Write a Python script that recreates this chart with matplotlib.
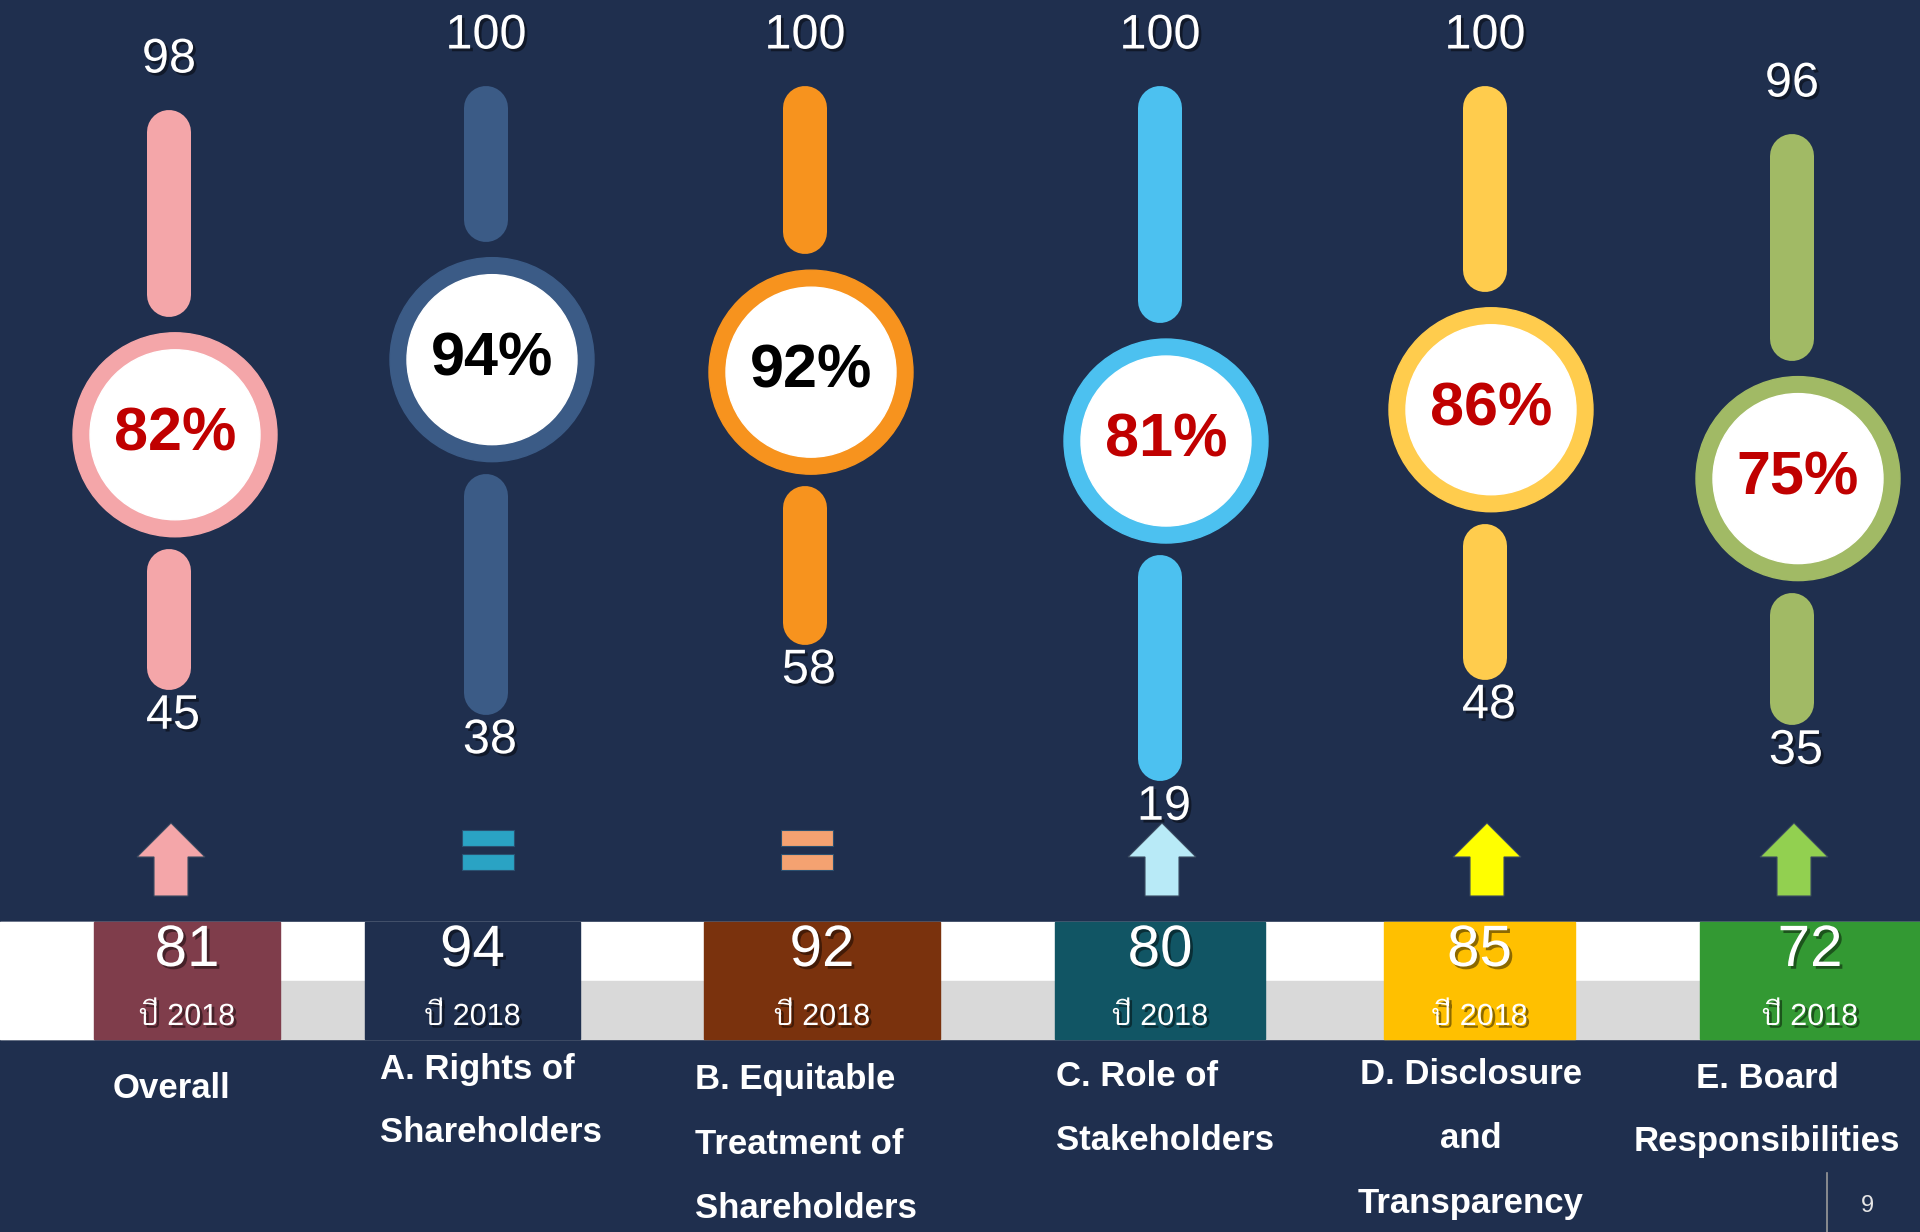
import matplotlib
matplotlib.use('Agg')
import matplotlib.pyplot as plt
from matplotlib.patches import Circle, Rectangle, Polygon
import matplotlib.patheffects as pe

plt.rcParams['font.family'] = ['Liberation Sans', 'Bai Jamjuree', 'DejaVu Sans']

# data
categories = ['Overall', 'A. Rights of\nShareholders', 'B. Equitable\nTreatment of\nShareholders',
              'C. Role of\nStakeholders', 'D. Disclosure\nand\nTransparency', 'E. Board\nResponsibilities']
score_now = [82, 94, 92, 81, 86, 75]
max_score = [98, 100, 100, 100, 100, 96]
min_score = [45, 38, 58, 19, 48, 35]
score_2018 = [81, 94, 92, 80, 85, 72]
trend = ['up', 'same', 'same', 'up', 'up', 'up']
year_label = 'ปี 2018'
page_no = '9'

# styles / layout (figure pixels)
bg = '#1F2F4E'
ring_colors = ['#F4A6A9', '#3B5B86', '#F7931E', '#4CC1F0', '#FFCC4D', '#A1BA65']
pct_colors = ['#C00000', 'black', 'black', '#C00000', '#C00000', '#C00000']
trend_colors = ['#F4A6A9', '#2AA3C4', '#F4A271', '#B8EAF7', '#FFFF00', '#92D050']
box_colors = ['#7F3D4B', None, '#7A320D', '#115564', '#FFC000', '#339933']
box_span = [(94, 280), (365, 580), (704, 940), (1055, 1265), (1384, 1575), (1700, 1920)]
col_x = [175, 492, 811, 1166, 1491, 1798]
label_pos = [(171, 'center', 1089), (380, 'left', 1069), (695, 'left', 1080),
             (1056, 'left', 1076), (1471, 'center', 1075), (1767, 'center', 1078)]

R_OUT, R_IN = 102, 85
BAR_W = 44  # px


# value -> vertical position (infographic scale, y grows downward)
def circle_y(p):
    return 416 - 6.26 * (p - 85)


def top_end_y(v):
    return 98 - 12.0 * (v - 99)


def bottom_end_y(v):
    return 706 - 3.5 * (v - 40.5)


fig = plt.figure(figsize=(19.2, 12.32), dpi=100, facecolor=bg)
ax = fig.add_axes([0, 0, 1, 1])
ax.set_xlim(0, 1920)
ax.set_ylim(1232, 0)
ax.axis('off')
ax.set_facecolor(bg)

shadow = [pe.withSimplePatchShadow(offset=(2, -2), shadow_rgbFace='black', alpha=0.45)]
lw_pt = BAR_W * 72 / 100

for i in range(len(categories)):
    x = col_x[i]
    bx = x - 6
    cy = circle_y(score_now[i])
    col = ring_colors[i]

    # top bar
    y1 = top_end_y(max_score[i])
    y2 = cy - R_OUT - 16
    ax.plot([bx, bx], [y1 + BAR_W / 2, y2 - BAR_W / 2], color=col, lw=lw_pt,
            solid_capstyle='round', zorder=2)
    ax.text(bx, y1 - 50, str(max_score[i]), color='white', fontsize=35,
            ha='center', va='center', path_effects=shadow, zorder=5)

    # bottom bar
    y3 = cy + R_OUT + 12
    y4 = bottom_end_y(min_score[i])
    ax.plot([bx, bx], [y3 + BAR_W / 2, y4 - BAR_W / 2], color=col, lw=lw_pt,
            solid_capstyle='round', zorder=2)
    ax.text(bx + 4, y4 + 26, str(min_score[i]), color='white', fontsize=35,
            ha='center', va='center', path_effects=shadow, zorder=5)

    # ring
    ax.add_patch(Circle((x, cy), R_OUT, color=col, zorder=3))
    ax.add_patch(Circle((x, cy), R_IN, color='white', zorder=4))
    ax.text(x, cy, f'{score_now[i]}%', color=pct_colors[i], fontsize=44,
            fontweight='bold', ha='center', va='center', zorder=5)

    # trend marker
    tx = x - 4
    tc = trend_colors[i]
    if trend[i] == 'up':
        pts = [(tx, 823), (tx + 34, 857), (tx + 17, 857), (tx + 17, 896),
               (tx - 17, 896), (tx - 17, 857), (tx - 34, 857)]
        ax.add_patch(Polygon(pts, closed=True, facecolor=tc, edgecolor='#3A4A60',
                             lw=0.8, zorder=3))
    else:
        for yy in (830, 854):
            ax.add_patch(Rectangle((tx - 26, yy), 52, 16, facecolor=tc,
                                   edgecolor='#2A5070', lw=0.8, zorder=3))

# bottom band
ax.add_patch(Rectangle((0, 922), 1920, 59, color='white', zorder=1))
ax.add_patch(Rectangle((0, 981), 1920, 58, color='#D9D9D9', zorder=1))
ax.add_patch(Rectangle((0, 922), 94, 117, color='white', zorder=1.5))
for i in range(len(categories)):
    l, r = box_span[i]
    fc = box_colors[i] if box_colors[i] else bg
    ax.add_patch(Rectangle((l, 922), r - l, 117, color=fc, zorder=2))
    cx = (l + r) / 2
    ax.text(cx, 951, str(score_2018[i]), color='white', fontsize=42,
            ha='center', va='center', path_effects=shadow, zorder=5)
    ax.text(cx, 1017, year_label, color='white', fontsize=22,
            ha='center', va='center', path_effects=shadow, zorder=5)

    lx, ha, ly = label_pos[i]
    for k, line in enumerate(categories[i].split('\n')):
        ax.text(lx, ly + 64 * k, line, color='white', fontsize=25, fontweight='bold',
                ha=ha, va='center', zorder=5)

# page number
ax.plot([1827, 1827], [1173, 1232], color='#9A9A9A', lw=1.2)
ax.text(1867, 1206, page_no, color='#E6E6E6', fontsize=17, ha='center', va='center')

fig.savefig('out.png', dpi=100, facecolor=bg)
